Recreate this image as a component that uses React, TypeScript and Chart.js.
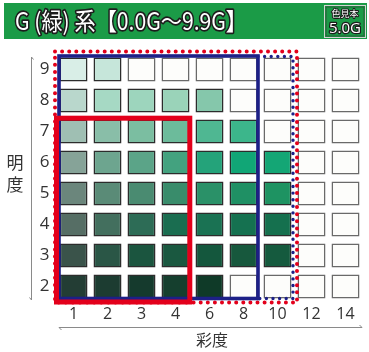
import React, { useEffect, useRef } from 'react';
import { Chart, registerables } from 'chart.js';
Chart.register(...registerables);

// ---- data ----
const chromaLabels = ['1', '2', '3', '4', '6', '8', '10', '12', '14'];
const valueLevels = [9, 8, 7, 6, 5, 4, 3, 2];
const E = null;
const row9 = ['#d9eee7', '#c6e6da', E, E, E, E, E, E, E];
const row8 = ['#b9d7cc', '#a6d9c4', '#9dd5bd', '#9ad3b9', '#85c7ab', E, E, E, E];
const row7 = ['#9fbfb3', '#89bea8', '#7bbea1', '#6cbb9b', '#4fb792', '#3cb68b', E, E, E];
const row6 = ['#86a398', '#6da58f', '#5ba488', '#43a27f', '#24a37a', '#11a676', '#14a675', E, E];
const row5 = ['#6b867c', '#5a8b77', '#4a8b71', '#398c6b', '#2a9168', '#1f9064', '#1e9362', E, E];
const row4 = ['#566e65', '#436f5e', '#2d6c56', '#1a6d50', '#1a7253', '#157150', '#15704e', E, E];
const row3 = ['#3a534a', '#2a5646', '#1b553f', '#1a5840', '#14573d', '#17583d', '#155a3e', E, E];
const row2 = ['#233d34', '#1c3c31', '#153a2d', '#153f2e', '#0f3a28', E, E, E, E];
const rowColors = [row9, row8, row7, row6, row5, row4, row3, row2];

// frames: chroma range (labels) and value range
const blueSolidFrame = { from: '1', to: '8', lo: 2, hi: 9 };
const redSolidFrame = { from: '1', to: '4', lo: 2, hi: 7 };
const outerDottedFrame = { from: '1', to: '10', lo: 2, hi: 9 };

const titleText = 'G (緑) 系【0.0G～9.9G】';
const sampleLabel = '色見本';
const sampleHue = '5.0G';
const yTitle = ['明', '度'];
const xTitle = '彩度';

const CELL_HALF = 0.387;
const FONT = '"Open Sans", "Noto Sans", sans-serif';
const CJK = '"Noto Sans CJK JP", sans-serif';

export default function App() {
  const ref = useRef<HTMLCanvasElement>(null);
  useEffect(() => {
    document.body.style.margin = '0';
    const canvas = ref.current!;
    const datasets = valueLevels.map((v, r) => ({
      label: String(v),
      data: chromaLabels.map(() => [v - CELL_HALF, v + CELL_HALF]),
      backgroundColor: rowColors[r].map((c) => c ?? '#fdfdfb'),
      borderColor: rowColors[r].map((c) => (c ? '#2c2c2c' : '#6a6a6a')),
      borderWidth: 1.6,
      borderSkipped: false as const,
      grouped: false,
      categoryPercentage: 1,
      barPercentage: 28 / 34,
    }));

    const deco = {
      id: 'deco',
      beforeDraw(chart: any) {
        const c = chart.ctx;
        c.save();
        c.fillStyle = '#ffffff';
        c.fillRect(0, 0, chart.width, chart.height);
        // header
        c.fillStyle = '#1b9b47';
        c.fillRect(4, 3, 363, 36);
        c.font = `24px ${CJK}`;
        c.textBaseline = 'alphabetic';
        const w = c.measureText(titleText).width;
        c.save();
        c.translate(15, 30);
        c.scale(232 / w, 1);
        c.lineJoin = 'round';
        c.lineWidth = 3.5;
        c.strokeStyle = '#1d1d1d';
        c.strokeText(titleText, 0, 0);
        c.fillStyle = '#ffffff';
        c.fillText(titleText, 0, 0);
        c.restore();
        // sample box
        c.strokeStyle = '#d4d4d4';
        c.lineWidth = 1;
        c.strokeRect(324.5, 5.5, 41, 32);
        c.strokeStyle = '#2d5a38';
        c.strokeRect(326, 7, 38, 29);
        c.textAlign = 'center';
        c.lineJoin = 'round';
        c.font = `9px ${CJK}`;
        c.lineWidth = 2;
        c.strokeStyle = '#1d1d1d';
        c.strokeText(sampleLabel, 345, 17);
        c.fillStyle = '#fff';
        c.fillText(sampleLabel, 345, 17);
        c.font = `15px ${FONT}`;
        c.lineWidth = 2.5;
        c.strokeText(sampleHue, 345, 33);
        c.fillText(sampleHue, 345, 33);
        c.restore();
      },
      afterDatasetsDraw(chart: any) {
        const c = chart.ctx;
        const xs = chart.scales.x;
        const ys = chart.scales.y;
        const hw = 14;
        const cellH = (ys.getPixelForValue(0) - ys.getPixelForValue(CELL_HALF));
        const L = (lab: string) => xs.getPixelForValue(chromaLabels.indexOf(lab)) - hw;
        const R = (lab: string) => xs.getPixelForValue(chromaLabels.indexOf(lab)) + hw;
        const T = (v: number) => ys.getPixelForValue(v) - cellH;
        const B = (v: number) => ys.getPixelForValue(v) + cellH;
        c.save();
        // red dotted outer frame
        const od = outerDottedFrame;
        c.strokeStyle = '#e3001b';
        c.lineWidth = 4;
        c.lineCap = 'round';
        c.setLineDash([0, 7.1]);
        c.beginPath();
        c.rect(L(od.from) - 4.5, T(od.hi) - 6, R(od.to) + 5.5 - (L(od.from) - 4.5), B(od.lo) + 4 - (T(od.hi) - 6));
        c.stroke();
        // blue dotted extension
        const bs = blueSolidFrame;
        c.strokeStyle = '#1d2087';
        c.lineWidth = 3.4;
        c.setLineDash([0, 6.6]);
        c.beginPath();
        c.moveTo(R(bs.to) + 0.5, T(od.hi) - 1);
        c.lineTo(R(od.to) + 1.5, T(od.hi) - 1);
        c.lineTo(R(od.to) + 1.5, B(od.lo));
        c.lineTo(R(bs.to) + 0.5, B(od.lo));
        c.stroke();
        c.setLineDash([]);
        c.lineCap = 'butt';
        // blue solid
        c.lineWidth = 3.6;
        c.strokeRect(L(bs.from) - 0.5, T(bs.hi) - 1.5, R(bs.to) + 0.5 - (L(bs.from) - 0.5), B(bs.lo) - (T(bs.hi) - 1.5));
        // red solid
        const rs = redSolidFrame;
        c.strokeStyle = '#e3001b';
        c.lineWidth = 5;
        c.lineJoin = 'miter';
        c.strokeRect(L(rs.from) - 3, T(rs.hi) - 1.3, R(rs.to) + 0.3 - (L(rs.from) - 3), B(rs.lo) + 3.5 - (T(rs.hi) - 1.3));
        c.restore();
      },
      afterDraw(chart: any) {
        const c = chart.ctx;
        c.save();
        c.strokeStyle = '#8a8a8a';
        c.lineWidth = 1;
        c.beginPath();
        c.moveTo(31.5, 57);
        c.lineTo(31.5, 300);
        c.lineTo(29.5, 297.5);
        c.moveTo(31.5, 57);
        c.lineTo(33.5, 59.5);
        c.moveTo(61.5, 330);
        c.lineTo(59, 327.5);
        c.lineTo(362, 327.5);
        c.lineTo(359.5, 325);
        c.stroke();
        c.fillStyle = '#333';
        c.font = `17px ${CJK}`;
        c.textAlign = 'center';
        c.textBaseline = 'middle';
        c.fillText(yTitle[0], 15, 163);
        c.fillText(yTitle[1], 15, 185);
        c.font = `16px ${CJK}`;
        c.fillText(xTitle, 212, 340);
        c.restore();
      },
    };

    const chart = new Chart(canvas, {
      type: 'bar',
      data: { labels: chromaLabels, datasets: datasets as any },
      options: {
        animation: false,
        responsive: false,
        devicePixelRatio: 1,
        layout: { padding: { top: 54, right: 6.5, left: 0, bottom: 0 } },
        plugins: { legend: { display: false }, tooltip: { enabled: false } },
        scales: {
          x: {
            type: 'category',
            offset: true,
            grid: { display: false, drawTicks: false },
            border: { display: false },
            ticks: { color: '#333', font: { family: FONT, size: 16 }, padding: 3, maxRotation: 0, autoSkip: false },
            afterFit: (s: any) => { s.height = 50; },
          },
          y: {
            type: 'linear',
            min: 1.5,
            max: 9.5,
            grid: { display: false, drawTicks: false },
            border: { display: false },
            ticks: { color: '#333', font: { family: FONT, size: 17 }, padding: 7 },
            afterBuildTicks: (s: any) => { s.ticks = valueLevels.map((v) => ({ value: v })); },
            afterFit: (s: any) => { s.width = 56.5; },
          },
        },
      },
      plugins: [deco],
    });
    return () => chart.destroy();
  }, []);
  return (
    <div style={{ position: 'absolute', left: 0, top: 0, width: 369, height: 352 }}>
      <canvas ref={ref} width={369} height={352} style={{ display: 'block' }} />
    </div>
  );
}
